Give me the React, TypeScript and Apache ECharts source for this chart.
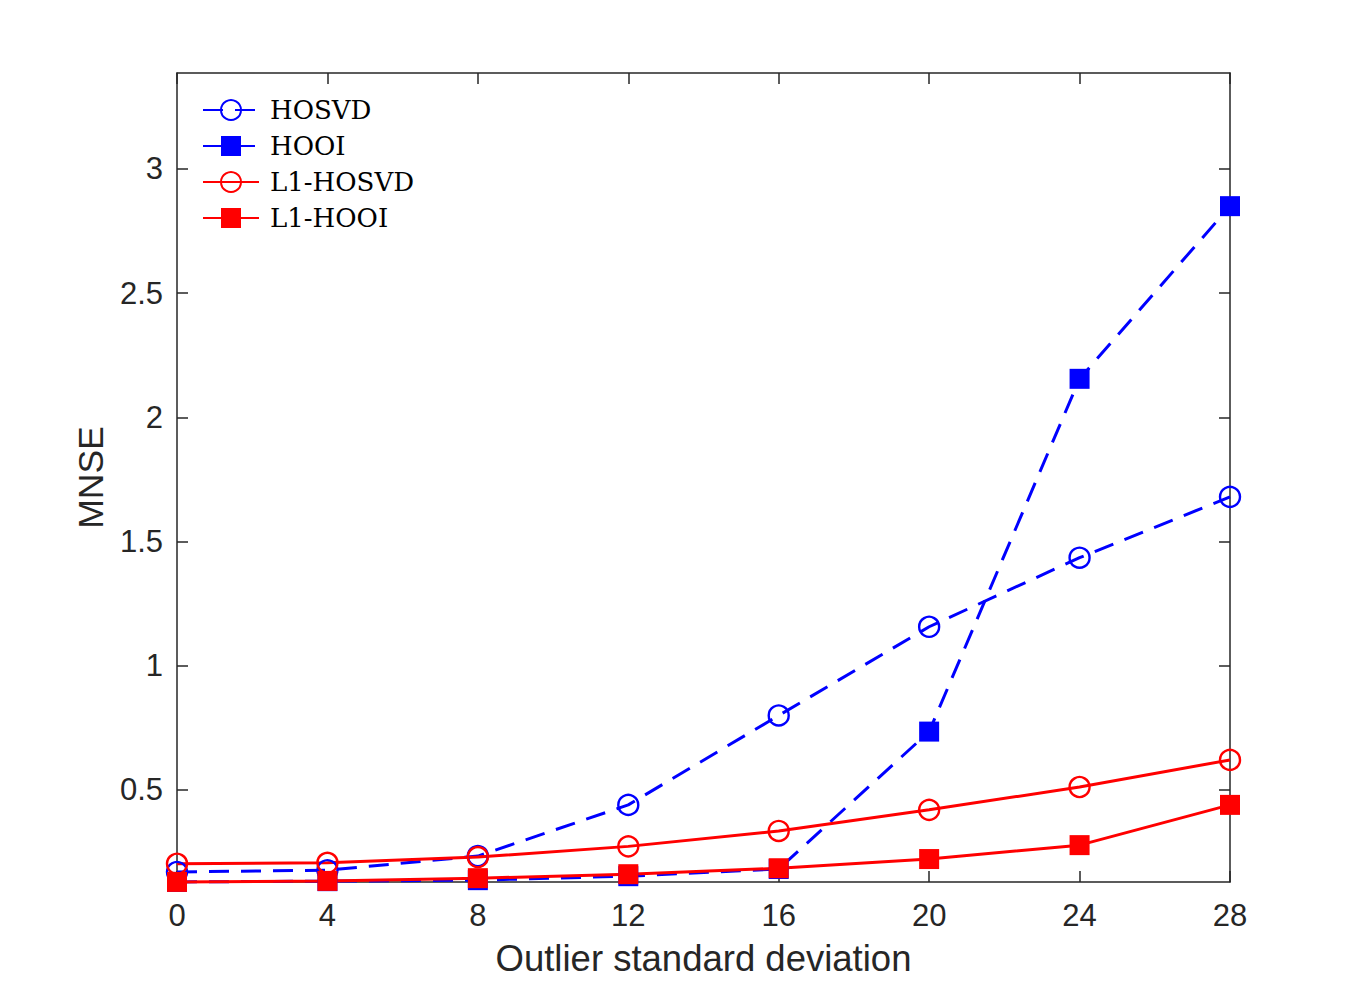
import React, { useEffect, useRef } from "react";
import * as echarts from "echarts";

const xValues = [0, 4, 8, 12, 16, 20, 24, 28];
const hosvd = [0.17, 0.177, 0.234, 0.44, 0.8, 1.157, 1.435, 1.68];
const hooi = [0.13, 0.133, 0.137, 0.153, 0.182, 0.735, 2.155, 2.85];
const l1Hosvd = [0.203, 0.207, 0.23, 0.273, 0.335, 0.42, 0.512, 0.621];
const l1Hooi = [0.13, 0.134, 0.145, 0.161, 0.185, 0.222, 0.278, 0.44];
const yTicks = [0.5, 1, 1.5, 2, 2.5, 3];
const xTicks = [0, 4, 8, 12, 16, 20, 24, 28];
const Y_MIN = 0.1296;
const Y_MAX = 3.386;

const AX = "#262626";
const BLUE = "#0000ff";
const RED = "#ff0000";

function pairs(ys: number[]) {
  return xValues.map((x, i) => [x, ys[i]]);
}

export default function App() {
  const ref = useRef<HTMLDivElement>(null);
  useEffect(() => {
    if (!ref.current) return;
    const chart = echarts.init(ref.current, undefined, { renderer: "svg" });
    const axisCommon = {
      axisLine: { show: true, onZero: false, lineStyle: { color: AX, width: 1.5 } },
      splitLine: { show: false },
    };
    const mkSeries = (name: string, data: number[], color: string, dashed: boolean, square: boolean) => ({
      name,
      type: "line",
      data: pairs(data),
      clip: false,
      symbol: square ? "rect" : "circle",
      symbolSize: 20,
      showAllSymbol: true,
      lineStyle: { color, width: 3, type: dashed ? [20, 12] : "solid" },
      itemStyle: square
        ? { color, borderColor: color, borderWidth: 0 }
        : { color: "rgba(255,255,255,0)", borderColor: color, borderWidth: 2.4 },
      emphasis: { disabled: true },
    });
    chart.setOption({
      animation: false,
      backgroundColor: "#ffffff",
      grid: { left: 177, right: 131, top: 73, bottom: 110, containLabel: false },
      legend: {
        orient: "vertical",
        left: 202,
        top: 97,
        padding: 0,
        itemWidth: 56,
        itemHeight: 25,
        itemGap: 10,
        textStyle: { fontFamily: "DejaVu Serif", fontSize: 26, color: "#000", padding: [0, 0, 0, 6] },
        data: ["HOSVD", "HOOI", "L1-HOSVD", "L1-HOOI"],
      },
      xAxis: [
        {
          type: "value",
          min: 0,
          max: 28,
          interval: 4,
          position: "bottom",
          name: "Outlier standard deviation",
          nameLocation: "middle",
          nameGap: 58,
          nameTextStyle: { fontFamily: "Liberation Sans", fontSize: 36.5, color: AX },
          ...axisCommon,
          axisTick: { show: true, inside: true, length: 11, lineStyle: { color: AX, width: 1.5 }, customValues: xTicks },
          axisLabel: { show: true, margin: 18, fontFamily: "Liberation Sans", fontSize: 31, color: AX, customValues: xTicks },
        },
        {
          type: "value",
          min: 0,
          max: 28,
          interval: 4,
          position: "top",
          ...axisCommon,
          axisTick: { show: true, inside: true, length: 11, lineStyle: { color: AX, width: 1.5 }, customValues: xTicks },
          axisLabel: { show: false },
        },
      ],
      yAxis: [
        {
          type: "value",
          min: Y_MIN,
          max: Y_MAX,
          position: "left",
          name: "MNSE",
          nameLocation: "middle",
          nameGap: 65,
          nameRotate: 90,
          nameTextStyle: { fontFamily: "Liberation Sans", fontSize: 35.5, color: AX },
          ...axisCommon,
          axisTick: { show: true, inside: true, length: 11, lineStyle: { color: AX, width: 1.5 }, customValues: yTicks },
          axisLabel: { show: true, margin: 14, fontFamily: "Liberation Sans", fontSize: 31, color: AX, customValues: yTicks },
        },
        {
          type: "value",
          min: Y_MIN,
          max: Y_MAX,
          position: "right",
          ...axisCommon,
          axisTick: { show: true, inside: true, length: 11, lineStyle: { color: AX, width: 1.5 }, customValues: yTicks },
          axisLabel: { show: false },
        },
      ],
      series: [
        mkSeries("HOSVD", hosvd, BLUE, true, false),
        mkSeries("HOOI", hooi, BLUE, true, true),
        mkSeries("L1-HOSVD", l1Hosvd, RED, false, false),
        mkSeries("L1-HOOI", l1Hooi, RED, false, true),
      ],
    });
    return () => chart.dispose();
  }, []);
  return (
    <div
      ref={ref}
      style={{ position: "fixed", left: 0, top: 0, width: 1361, height: 992, background: "#fff" }}
    />
  );
}
